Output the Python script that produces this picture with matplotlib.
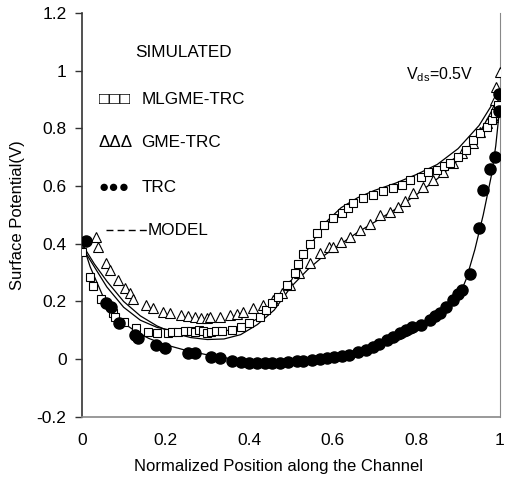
import matplotlib
matplotlib.use("Agg")
import matplotlib.pyplot as plt

plt.rcParams['font.family'] = ['Liberation Sans', 'DejaVu Sans']
plt.rcParams['mathtext.fontset'] = 'custom'
plt.rcParams['mathtext.rm'] = 'Liberation Sans'

# simulated data
trc_x = [0.01, 0.057, 0.07, 0.09, 0.127, 0.134, 0.177, 0.2, 0.254, 0.27, 0.31, 0.33, 0.36, 0.38,
         0.40, 0.42, 0.438, 0.456, 0.474, 0.494, 0.514, 0.53, 0.55, 0.57, 0.586, 0.604, 0.622, 0.64,
         0.66, 0.68, 0.696, 0.71, 0.73, 0.745, 0.76, 0.775, 0.79, 0.81, 0.833, 0.845, 0.857, 0.872,
         0.888, 0.9, 0.91, 0.928, 0.95, 0.96, 0.976, 0.987, 0.998, 0.998]
trc_y = [0.41, 0.194, 0.18, 0.125, 0.083, 0.073, 0.049, 0.038, 0.02, 0.02, 0.007, 0.003, -0.007, -0.01,
         -0.013, -0.013, -0.013, -0.013, -0.012, -0.01, -0.007, -0.005, -0.003, 0.0, 0.003, 0.006, 0.01, 0.016,
         0.024, 0.032, 0.042, 0.052, 0.066, 0.078, 0.09, 0.1, 0.11, 0.12, 0.135, 0.148, 0.16, 0.18,
         0.205, 0.225, 0.24, 0.295, 0.455, 0.585, 0.66, 0.70, 0.86, 0.92]

mlgme_x = [0.0, 0.02, 0.026, 0.045, 0.074, 0.08, 0.10, 0.13, 0.158, 0.18, 0.205, 0.215, 0.23, 0.246,
           0.26, 0.27, 0.28, 0.29, 0.30, 0.31, 0.32, 0.335, 0.36, 0.38, 0.40, 0.426, 0.44, 0.455, 0.47,
           0.49, 0.51, 0.517, 0.53, 0.545, 0.562, 0.58, 0.60, 0.622, 0.636, 0.648, 0.672, 0.696, 0.72,
           0.744, 0.765, 0.785, 0.81, 0.828, 0.85, 0.865, 0.88, 0.90, 0.92, 0.935, 0.952, 0.97, 0.98,
           0.988, 0.995]
mlgme_y = [0.37, 0.285, 0.255, 0.21, 0.16, 0.145, 0.13, 0.107, 0.094, 0.09, 0.09, 0.093, 0.094, 0.097,
           0.096, 0.095, 0.10, 0.097, 0.092, 0.094, 0.097, 0.096, 0.10, 0.11, 0.125, 0.146, 0.17, 0.194, 0.215,
           0.256, 0.30, 0.33, 0.365, 0.40, 0.437, 0.465, 0.49, 0.505, 0.523, 0.54, 0.558, 0.568, 0.582,
           0.593, 0.603, 0.62, 0.63, 0.648, 0.655, 0.67, 0.68, 0.70, 0.725, 0.76, 0.783, 0.805, 0.83,
           0.853, 0.88]

gme_x = [0.034, 0.038, 0.057, 0.067, 0.086, 0.103, 0.115, 0.122, 0.153, 0.17, 0.194, 0.21, 0.237, 0.255,
         0.27, 0.285, 0.30, 0.306, 0.33, 0.354, 0.37, 0.385, 0.41, 0.433, 0.457, 0.478, 0.498, 0.52,
         0.545, 0.57, 0.59, 0.60, 0.62, 0.641, 0.665, 0.69, 0.713, 0.737, 0.756, 0.773, 0.792, 0.816,
         0.84, 0.864, 0.888, 0.91, 0.935, 0.952, 0.969, 0.983, 0.988, 0.99, 1.0]
gme_y = [0.423, 0.388, 0.333, 0.31, 0.274, 0.246, 0.229, 0.21, 0.187, 0.177, 0.163, 0.16, 0.152, 0.148,
         0.146, 0.143, 0.142, 0.146, 0.147, 0.153, 0.157, 0.163, 0.177, 0.187, 0.205, 0.228, 0.256, 0.30,
         0.333, 0.367, 0.39, 0.39, 0.405, 0.425, 0.447, 0.47, 0.5, 0.51, 0.527, 0.55, 0.575, 0.596,
         0.62, 0.648, 0.68, 0.714, 0.748, 0.787, 0.818, 0.84, 0.9, 0.943, 0.995]

# model curves
trc_mx = [0, 0.02, 0.05, 0.08, 0.1, 0.13, 0.16, 0.2, 0.25, 0.3, 0.35, 0.4, 0.45, 0.5, 0.55, 0.6,
          0.65, 0.7, 0.75, 0.8, 0.86, 0.9, 0.92, 0.94, 0.96, 0.98, 0.99, 1.0]
trc_my = [0.41, 0.32, 0.22, 0.155, 0.125, 0.095, 0.072, 0.05, 0.03, 0.015, 0.003, -0.006, -0.01, -0.01,
          -0.006, 0.002, 0.016, 0.035, 0.06, 0.095, 0.16, 0.21, 0.28, 0.38, 0.5, 0.64, 0.74, 0.88]

mod_x = [0, 0.03, 0.06, 0.1, 0.14, 0.18, 0.22, 0.26, 0.3, 0.34, 0.38, 0.42, 0.46, 0.5, 0.54, 0.58,
         0.62, 0.66, 0.7, 0.75, 0.8, 0.85, 0.9, 0.95, 0.98, 1.0]
mlgme_my = [0.39, 0.32, 0.25, 0.18, 0.135, 0.11, 0.098, 0.092, 0.092, 0.097, 0.11, 0.14, 0.19, 0.27,
            0.38, 0.47, 0.525, 0.56, 0.585, 0.61, 0.64, 0.675, 0.73, 0.81, 0.88, 0.93]
gme_my = [0.40, 0.33, 0.27, 0.2, 0.15, 0.115, 0.09, 0.075, 0.068, 0.07, 0.085, 0.12, 0.17, 0.25,
          0.31, 0.36, 0.40, 0.44, 0.475, 0.52, 0.57, 0.625, 0.69, 0.78, 0.86, 0.93]

yticks = [-0.2, 0, 0.2, 0.4, 0.6, 0.8, 1.0, 1.2]
ytick_labels = ['-0.2', '0', '0.2', '0.4', '0.6', '0.8', '1', '1.2']
xticks = [0, 0.2, 0.4, 0.6, 0.8, 1.0]
xtick_labels = ['0', '0.2', '0.4', '0.6', '0.8', '1']

fig = plt.figure(figsize=(5.05, 4.83), dpi=100)
ax = fig.add_axes([0.162, 0.137, 0.828, 0.836])

# model lines
ax.plot(trc_mx, trc_my, color='black', lw=0.9, zorder=2)
ax.plot(mod_x, mlgme_my, color='black', lw=0.9, zorder=2)
ax.plot(mod_x, gme_my, color='black', lw=0.9, zorder=2)

# simulated markers
ax.plot(gme_x, gme_y, ls='none', marker='^', ms=7, mfc='white', mec='black', mew=0.8, zorder=3)
ax.plot(mlgme_x, mlgme_y, ls='none', marker='s', ms=6, mfc='white', mec='black', mew=0.8, zorder=3)
ax.plot(trc_x, trc_y, ls='none', marker='o', ms=8, mfc='black', mec='black', zorder=4)

ax.set_xlim(0, 1)
ax.set_ylim(-0.2, 1.2)
ax.set_yticks(yticks)
ax.set_yticklabels(ytick_labels)
ax.set_xticks(xticks)
ax.set_xticklabels(xtick_labels)
ax.tick_params(axis='y', direction='out', length=5, width=1, pad=6, labelsize=12.5, color='#333333')
ax.tick_params(axis='x', length=0, pad=12, labelsize=12.5)

ax.spines['top'].set_visible(False)
ax.spines['right'].set_color('#888888')
ax.spines['bottom'].set_color('#888888')
ax.spines['left'].set_color('#333333')
ax.spines['bottom'].set_linewidth(1.2)
ax.spines['left'].set_linewidth(1.2)

ax.set_xlabel('Normalized Position along the Channel', fontsize=12)
ax.xaxis.set_label_coords(0.47, -0.105)
ax.set_ylabel('Surface Potential(V)', fontsize=12)
ax.yaxis.set_label_coords(-0.135, 0.5)

# legend drawn as text, like the original
tx = dict(transform=ax.transAxes, fontsize=12.3, va='center')
ax.text(0.127, 0.903, 'SIMULATED', **tx)
ax.text(0.04, 0.787, '\u25a1\u25a1\u25a1', **tx)
ax.text(0.142, 0.787, 'MLGME-TRC', **tx)
ax.text(0.04, 0.68, '\u0394\u0394\u0394', **tx)
ax.text(0.142, 0.68, 'GME-TRC', **tx)
ax.text(0.04, 0.567, '\u25cf\u25cf\u25cf', **tx)
ax.text(0.142, 0.567, 'TRC', **tx)
ax.plot([0.058, 0.157], [0.462, 0.462], transform=ax.transAxes, color='black', lw=1.0,
        ls=(0, (5, 3)), clip_on=False)
ax.text(0.158, 0.462, 'MODEL', **tx)

ax.text(0.775, 0.848, r'V$_{\mathregular{ds}}$=0.5V', transform=ax.transAxes, fontsize=11.5, va='center')

fig.savefig('out.png', dpi=100)
